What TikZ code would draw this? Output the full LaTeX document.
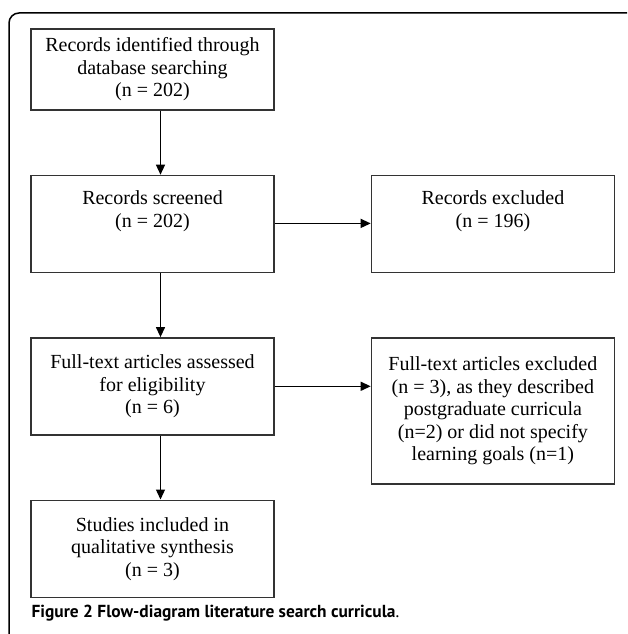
\documentclass[tikz,border=0pt]{standalone}
\usepackage{fontspec}
\setmainfont{Liberation Serif}
\newfontfamily\capfont{PT Sans}
\usetikzlibrary{arrows.meta,positioning}

\begin{document}
\begin{tikzpicture}[>={Triangle[width=9pt,length=10pt]}, node distance=64pt, line width=1.3pt,
  box/.style={draw=black!80, line width=1.4pt, minimum width=243pt, minimum height=97pt, inner sep=0pt, align=center, font=\fontsize{20}{22.5}\selectfont}]
  \useasboundingbox (0,0) rectangle (627pt,-634pt);
  \draw[line width=1.5pt, rounded corners=10pt] (9pt,-634pt) -- (9pt,-13pt) -- (627pt,-13pt);

  \node[box,minimum height=81pt] (found) at (152.5pt,-69.5pt) {Records identified through\\database searching\\(n = 202)};
  \node[box]          (screened) [below=of found] {Records screened\\(n = 202)\\\strut};
  \node[box]          (fulltext) [below=of screened] {Full-text articles assessed\\for eligibility\\(n = 6)};
  \node[box]          (included) [below=of fulltext] {Studies included in\\qualitative synthesis\\(n = 3)};
  \node[box]          (excluded) [right=96pt of screened] {Records excluded\\(n = 196)\\\strut};
  \node[box,minimum height=146pt] (dropped) [right=96pt of fulltext.north east, anchor=north west] {Full-text articles excluded\\(n = 3), as they described\\postgraduate curricula\\(n=2) or did not specify\\learning goals (n=1)};

  \path[->] ([xshift=8pt]found.south) edge ([xshift=8pt]screened.north)
            ([xshift=8pt]screened.south) edge ([xshift=8pt]fulltext.north)
            ([xshift=8pt]fulltext.south) edge ([xshift=8pt]included.north)
            ([yshift=0.5pt]screened.east) edge ([yshift=0.5pt]excluded.west)
            (fulltext.east) edge (fulltext.east -| dropped.west);

  \node[anchor=base west, inner sep=0pt, font=\capfont\bfseries\fontsize{17.4}{20}\selectfont] (caption) at (31pt,-617pt) {Figure 2 Flow-diagram literature search curricula\textmd{.}};
\end{tikzpicture}
\end{document}
